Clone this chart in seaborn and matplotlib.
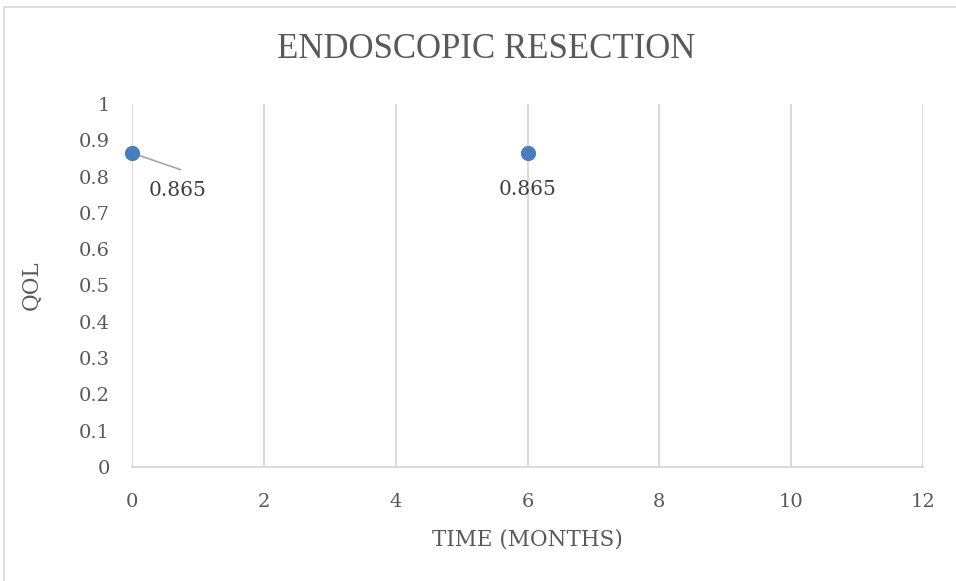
import matplotlib
matplotlib.use("Agg")
import matplotlib.pyplot as plt
import seaborn as sns
import pandas as pd
from matplotlib.patches import Rectangle

months = [0, 6]
qol = [0.865, 0.865]
labels = ["0.865", "0.865"]
x_ticks = [0, 2, 4, 6, 8, 10, 12]
y_ticks = [0, 0.1, 0.2, 0.3, 0.4, 0.5, 0.6, 0.7, 0.8, 0.9, 1]
y_tick_labels = ["0", "0.1", "0.2", "0.3", "0.4", "0.5", "0.6", "0.7", "0.8", "0.9", "1"]

sns.set_theme(style="white")
plt.rcParams['font.family'] = ['DejaVu Serif']

df = pd.DataFrame({"month": months, "qol": qol})
txt = "#595959"
grid = "#d9d9d9"

fig = plt.figure(figsize=(9.56, 5.81), dpi=100)
fig.patches.append(Rectangle((4/956, -0.1), 1.2, 1 - 7/581 + 0.1, transform=fig.transFigure,
                             fill=False, edgecolor="#d9d9d9", linewidth=1.2))
ax = fig.add_axes([132/956, 1 - 467/581, (923 - 132)/956, (467 - 104)/581])

ax.set_xlim(0, 12)
ax.set_ylim(0, 1)
ax.set_xticks(x_ticks)
ax.set_yticks(y_ticks)
ax.set_yticklabels(y_tick_labels)
for xv in x_ticks:
    ax.axvline(xv, color=grid, linewidth=1.4, zorder=0)
for s in ["top", "right", "left"]:
    ax.spines[s].set_visible(False)
ax.spines["bottom"].set_color(grid)
ax.spines["bottom"].set_linewidth(1.4)
ax.tick_params(axis="both", length=0, labelsize=14, colors=txt)
ax.tick_params(axis="x", pad=19)
ax.tick_params(axis="y", pad=16)

sns.scatterplot(data=df, x="month", y="qol", ax=ax, s=120, color="#4a7ebb",
                edgecolor="#4a7ebb", linewidth=0, zorder=5, clip_on=False)

# labels
ax.annotate(labels[0], xy=(months[0], qol[0]), xytext=(12, -27), textcoords="offset points",
            fontsize=14.5, color="#404040", ha="left", va="center",
            arrowprops=dict(arrowstyle="-", color="#a6a6a6", lw=1.2, shrinkA=0, shrinkB=0,
                            relpos=(0.55, 1.6)))
ax.annotate(labels[1], xy=(months[1], qol[1]), xytext=(0, -26), textcoords="offset points",
            fontsize=14.5, color="#404040", ha="center", va="center")

ax.set_xlabel("TIME (MONTHS)", fontsize=15.5, color=txt, labelpad=12)
ax.set_ylabel("QOL", fontsize=15.5, color=txt, labelpad=26)
fig.text(486/956, 1 - 50/581, "ENDOSCOPIC RESECTION", fontsize=25, color=txt,
         ha="center", va="center", family=["Liberation Serif"])

fig.savefig("out.png", dpi=100)
